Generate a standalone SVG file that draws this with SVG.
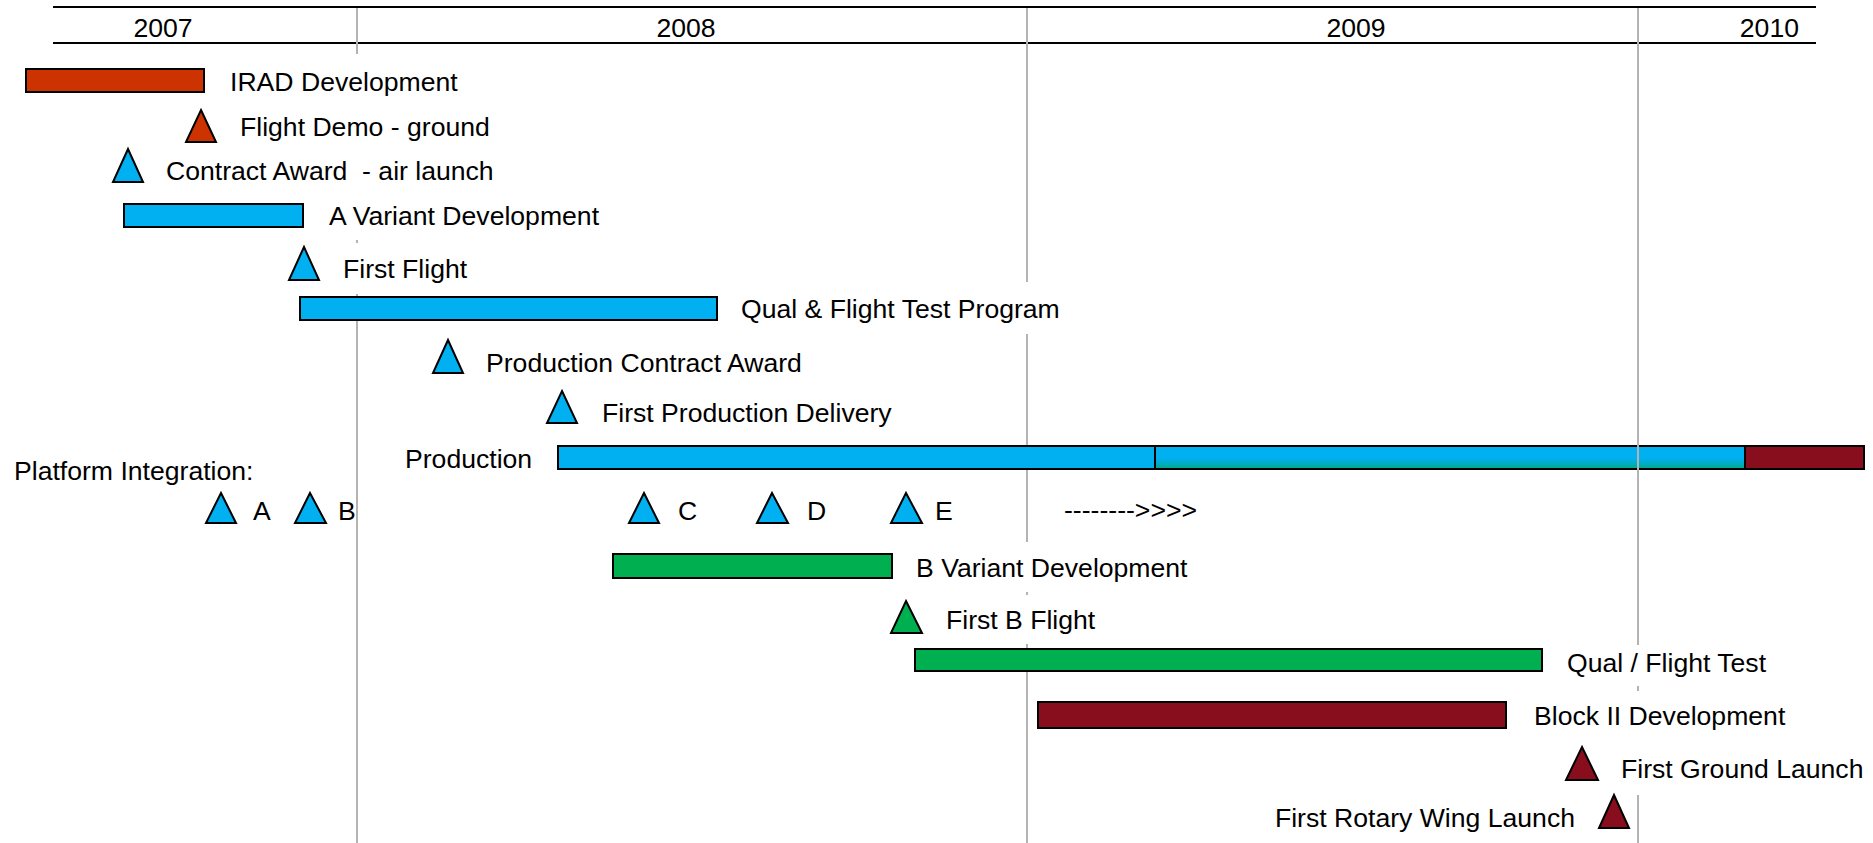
<svg xmlns="http://www.w3.org/2000/svg" width="1873" height="843" viewBox="0 0 1873 843">
  <style>
    text { font-family: "Liberation Sans", Arial, sans-serif; font-size: 26.6px; fill: #000; white-space: pre; }
    .year { text-anchor: middle; }
    .grid { stroke: #b3b3b3; stroke-width: 2; fill: none; }
    .rule { stroke: #000; stroke-width: 2; fill: none; }
    .bar { stroke: #000; stroke-width: 2; }
    .ms { stroke: #000; stroke-width: 2; stroke-linejoin: miter; }
    .red { fill: #cc3300; }
    .blue { fill: #00b0f0; }
    .green { fill: #00b050; }
    .maroon { fill: #880e1e; }
  </style>
  <defs>
    <linearGradient id="transition" x1="0" y1="0" x2="0" y2="1">
      <stop offset="0" stop-color="#00b0f0"/>
      <stop offset="0.55" stop-color="#00b0f0"/>
      <stop offset="1" stop-color="#00a98c"/>
    </linearGradient>
  </defs>
  <rect width="1873" height="843" fill="#fff"/>

  <!-- time scale header -->
  <g id="timescale">
    <line class="rule" x1="53" y1="7" x2="1816" y2="7"/>
    <line class="rule" x1="53" y1="43" x2="1816" y2="43"/>
    <text class="year" x="163" y="37">2007</text>
    <text class="year" x="686" y="37">2008</text>
    <text class="year" x="1356" y="37">2009</text>
    <text x="1799" y="37" text-anchor="end">2010</text>
  </g>

  <!-- year gridlines (interrupted behind label boxes) -->
  <g id="gridlines">
    <path class="grid" d="M357 8V54 M357 240V243 M357 294V843"/>
    <path class="grid" d="M1027 8V282 M1027 334V446 M1027 469V542 M1027 592V595 M1027 644V843"/>
  </g>

  <g id="irad-development">
    <rect class="bar red" x="26" y="69" width="178" height="23"/>
    <text x="230" y="91">IRAD Development</text>
  </g>

  <g id="flight-demo-ground">
    <polygon class="ms red" points="201,110 216,142 186,142"/>
    <text x="240" y="136">Flight Demo - ground</text>
  </g>

  <g id="contract-award-air-launch">
    <polygon class="ms blue" points="128,149 143,182 113,182"/>
    <text x="166" y="180">Contract Award  - air launch</text>
  </g>

  <g id="a-variant-development">
    <rect class="bar blue" x="124" y="204" width="179" height="23"/>
    <text x="329" y="225">A Variant Development</text>
  </g>

  <g id="first-flight">
    <polygon class="ms blue" points="304,247 319,280 289,280"/>
    <text x="343" y="278">First Flight</text>
  </g>

  <g id="qual-flight-test-program">
    <rect class="bar blue" x="300" y="297" width="417" height="23"/>
    <text x="741" y="318">Qual &amp; Flight Test Program</text>
  </g>

  <g id="production-contract-award">
    <polygon class="ms blue" points="448,340 463,373 433,373"/>
    <text x="486" y="372">Production Contract Award</text>
  </g>

  <g id="first-production-delivery">
    <polygon class="ms blue" points="562,391 577,423 547,423"/>
    <text x="602" y="422">First Production Delivery</text>
  </g>

  <g id="production">
    <text x="405" y="468">Production</text>
    <rect class="bar blue" x="558" y="446" width="597" height="23"/>
    <rect class="bar" x="1155" y="446" width="590" height="23" fill="url(#transition)"/>
    <rect class="bar maroon" x="1745" y="446" width="119" height="23"/>
  </g>

  <!-- 2009/2010 gridline runs over the production bar -->
  <g id="gridline-2010">
    <path class="grid" d="M1638 8V645 M1638 686V691 M1638 795V843"/>
  </g>

  <g id="platform-integration">
    <text x="14" y="480">Platform Integration:</text>
    <polygon class="ms blue" points="221,493 236,523 206,523"/>
    <text x="253" y="520">A</text>
    <polygon class="ms blue" points="310,493 326,523 295,523"/>
    <text x="338" y="520">B</text>
    <polygon class="ms blue" points="644,493 659,523 629,523"/>
    <text x="678" y="520">C</text>
    <polygon class="ms blue" points="772,493 788,523 757,523"/>
    <text x="807" y="520">D</text>
    <polygon class="ms blue" points="906,493 922,523 891,523"/>
    <text x="935" y="520">E</text>
    <text x="1064" y="519">--------&gt;&gt;&gt;&gt;</text>
  </g>

  <g id="b-variant-development">
    <rect class="bar green" x="613" y="554" width="279" height="24"/>
    <text x="916" y="577">B Variant Development</text>
  </g>

  <g id="first-b-flight">
    <polygon class="ms green" points="906,601 922,633 891,633"/>
    <text x="946" y="629">First B Flight</text>
  </g>

  <g id="qual-flight-test">
    <rect class="bar green" x="915" y="649" width="627" height="22"/>
    <text x="1567" y="672">Qual / Flight Test</text>
  </g>

  <g id="block-ii-development">
    <rect class="bar maroon" x="1038" y="702" width="468" height="26"/>
    <text x="1534" y="725">Block II Development</text>
  </g>

  <g id="first-ground-launch">
    <polygon class="ms maroon" points="1582,747 1598,780 1566,780"/>
    <text x="1621" y="778">First Ground Launch</text>
  </g>

  <g id="first-rotary-wing-launch">
    <polygon class="ms maroon" points="1614,795 1629,828 1599,828"/>
    <text x="1575" y="827" text-anchor="end">First Rotary Wing Launch</text>
  </g>
</svg>
